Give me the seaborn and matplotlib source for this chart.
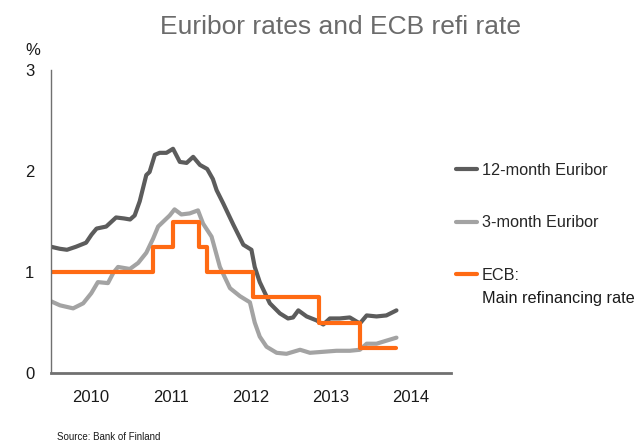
import matplotlib.pyplot as plt
import pandas as pd
import seaborn as sns

# 12-month Euribor (%)
eur12_dates = ["2010-01-01", "2010-02-10", "2010-03-15", "2010-04-25", "2010-06-10",
               "2010-07-05", "2010-07-28", "2010-09-10", "2010-10-25", "2010-12-01",
               "2010-12-28", "2011-01-18", "2011-02-10", "2011-03-12", "2011-03-27",
               "2011-04-20", "2011-05-12", "2011-06-12", "2011-07-12", "2011-08-12",
               "2011-09-12", "2011-10-12", "2011-11-12", "2011-12-15", "2012-01-10",
               "2012-01-27", "2012-02-26", "2012-04-12", "2012-05-28", "2012-07-04",
               "2012-07-19", "2012-08-11", "2012-09-26", "2012-11-11", "2012-12-18",
               "2013-01-10", "2013-02-03", "2013-03-13", "2013-04-28", "2013-05-28",
               "2013-06-27", "2013-08-11", "2013-09-26", "2013-11-11", "2013-12-12",
               "2014-01-26", "2014-03-12", "2014-04-27"]
eur12_values = [1.25, 1.23, 1.22, 1.25, 1.29,
                1.37, 1.43, 1.45, 1.54, 1.53,
                1.52, 1.56, 1.70, 1.96, 1.99,
                2.16, 2.18, 2.18, 2.22, 2.09,
                2.08, 2.14, 2.06, 2.02, 1.92,
                1.81, 1.68, 1.47, 1.27, 1.22,
                1.05, 0.90, 0.69, 0.59, 0.54,
                0.55, 0.62, 0.56, 0.52, 0.48,
                0.54, 0.54, 0.55, 0.49, 0.57,
                0.56, 0.57, 0.62]

# 3-month Euribor (%)
eur3_dates = ["2010-01-01", "2010-02-11", "2010-04-12", "2010-05-28", "2010-07-04",
              "2010-08-03", "2010-09-18", "2010-10-12", "2010-11-03", "2010-12-27",
              "2011-02-03", "2011-03-12", "2011-04-12", "2011-05-05", "2011-06-27",
              "2011-07-19", "2011-08-19", "2011-09-26", "2011-11-03", "2011-11-26",
              "2012-01-04", "2012-02-11", "2012-03-28", "2012-05-13", "2012-06-27",
              "2012-07-19", "2012-08-11", "2012-09-11", "2012-10-27", "2012-12-11",
              "2013-02-11", "2013-03-28", "2013-05-28", "2013-07-27", "2013-09-26",
              "2013-11-11", "2013-12-12", "2014-01-26", "2014-03-12", "2014-04-27"]
eur3_values = [0.71, 0.67, 0.64, 0.69, 0.79,
               0.90, 0.89, 0.99, 1.05, 1.03,
               1.09, 1.19, 1.33, 1.45, 1.56,
               1.62, 1.57, 1.58, 1.61, 1.48,
               1.35, 1.05, 0.84, 0.76, 0.70,
               0.50, 0.36, 0.26, 0.20, 0.19,
               0.23, 0.20, 0.21, 0.22, 0.22,
               0.23, 0.29, 0.29, 0.32, 0.35]

# ECB main refinancing rate, decision dates (%)
ecb_dates = ["2010-01-01", "2011-04-13", "2011-07-13", "2011-11-09", "2011-12-14",
             "2012-07-11", "2013-05-08", "2013-11-13", "2014-04-27"]
ecb_values = [1.00, 1.25, 1.50, 1.25, 1.00, 0.75, 0.50, 0.25, 0.25]

years = [2010, 2011, 2012, 2013, 2014]
labels = ["12-month Euribor", "3-month Euribor", "ECB:"]
ecb_label_line2 = "Main refinancing rate"

df12 = pd.DataFrame({"date": pd.to_datetime(eur12_dates), "rate": eur12_values})
df3 = pd.DataFrame({"date": pd.to_datetime(eur3_dates), "rate": eur3_values})
dfecb = pd.DataFrame({"date": pd.to_datetime(ecb_dates), "rate": ecb_values})

sns.set_style("white")
plt.rcParams["font.family"] = ["Liberation Sans", "DejaVu Sans"]

fig = plt.figure(figsize=(6.42, 4.42), dpi=100)
ax = fig.add_axes([51 / 642, 1 - 373 / 442, 400 / 642, 303 / 442])

sns.lineplot(df12, x="date", y="rate", color="#5c5c5c", lw=3, label=labels[0], ax=ax)
sns.lineplot(df3, x="date", y="rate", color="#a3a3a3", lw=3, label=labels[1], ax=ax)
sns.lineplot(dfecb, x="date", y="rate", color="#ff6a13", lw=3, drawstyle="steps-post",
             label=labels[2], ax=ax)

ax.set_xlim(pd.Timestamp("2010-01-01"), pd.Timestamp("2015-01-01"))
ax.set_ylim(0, 3)
ax.set_xticks([pd.Timestamp(f"{y}-07-02") for y in years], [str(y) for y in years])
ax.set_yticks([0, 1, 2, 3])
ax.tick_params(length=0, labelsize=12, colors="#1a1a1a")
ax.tick_params(axis="x", pad=12.5)
ax.tick_params(axis="y", pad=12)
ax.set_xlabel("")
ax.set_ylabel("")

sns.despine(ax=ax)
ax.spines["left"].set_color("#707070")
ax.spines["left"].set_linewidth(1)
ax.spines["bottom"].set_color("#707070")
ax.spines["bottom"].set_linewidth(2)

ax.text(-0.045, 1.066, "%", transform=ax.transAxes, fontsize=12, color="#1a1a1a",
        ha="center", va="center")

leg = ax.legend(loc="upper left", bbox_to_anchor=(456 / 642, 1 - 163 / 442),
                bbox_transform=fig.transFigure, frameon=False, fontsize=11.7,
                handlelength=1.3, handletextpad=0.3, labelspacing=2.3,
                borderpad=0, borderaxespad=0)

# second line of the ECB legend entry, under "ECB:"
fig.canvas.draw()
bb = leg.get_texts()[2].get_window_extent()
fig.text(bb.x0 / fig.bbox.width, (bb.y0 - 23) / fig.bbox.height, ecb_label_line2,
         ha="left", va="bottom", fontsize=11.7, color="#1a1a1a")

fig.text(0.53, 1 - 27 / 442, "Euribor rates and ECB refi rate", ha="center", va="center",
         fontsize=19, color="#6b6b6b")
fig.text(57 / 642, 1 - 437 / 442, "Source: Bank of Finland", ha="left", va="center",
         fontsize=7, color="#1a1a1a")

fig.savefig("out.png", dpi=100)
